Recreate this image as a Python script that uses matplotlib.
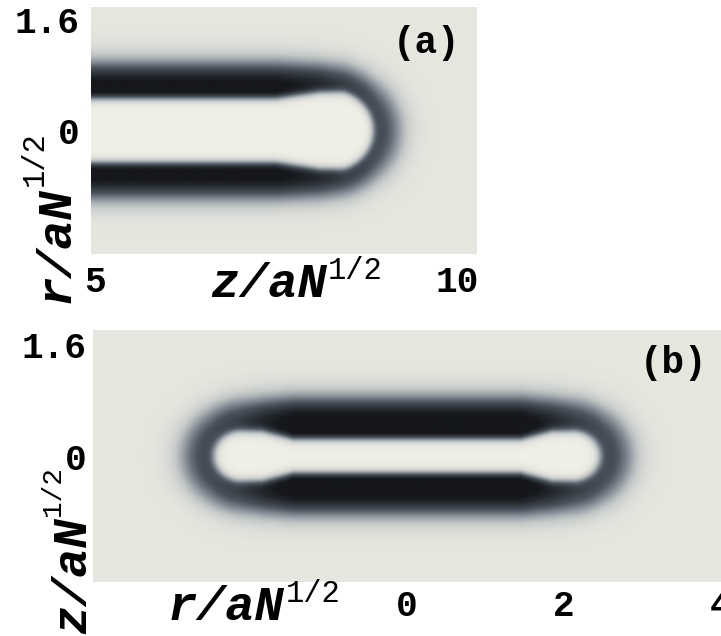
import numpy as np
import matplotlib.pyplot as plt
from matplotlib.colors import LinearSegmentedColormap


# -------------------------------------------------
# Panel (a): end of the tube, z horizontal, r vertical
# -------------------------------------------------
Z_RANGE_A = [4.95, 10.27]
R_RANGE_A = [-1.78, 1.78]
CAP_A = 8.35                      # centre of the end cap
KNOT_Z_A = [4.95, 7.5, 8.1, 8.45, 8.9, 10.3]
INNER_A = [0.48, 0.48, 0.57, 0.57, 0.49, 0.49]   # inner edge of the wall
OUTER_A = [0.92, 0.92, 0.90, 0.87, 0.82, 0.82]   # outer edge of the wall
DEPTH_A = [1.12, 1.12, 1.02, 0.88, 0.74, 0.74]   # darkness of the wall
XTICKS_A = [5, 10]
YTICKS_A = [0, 1.6]

# -------------------------------------------------
# Panel (b): closed capsule, r horizontal, z vertical
# -------------------------------------------------
R_RANGE_B = [-4.0, 4.0]
Z_RANGE_B = [-1.8, 1.8]
CAP_B = 2.1
KNOT_R_B = [0.0, 1.45, 1.85, 2.15, 2.5, 4.0]
INNER_B = [0.26, 0.26, 0.37, 0.37, 0.37, 0.37]
OUTER_B = [0.78, 0.78, 0.76, 0.74, 0.72, 0.72]
DEPTH_B = [1.15, 1.15, 0.98, 0.82, 0.74, 0.74]
XTICKS_B = [0, 2, 4]
YTICKS_B = [0, 1.6]

W, H = 721, 636


def sig(t):
    return 1.0 / (1.0 + np.exp(-t))


def density(u, v, cap, knots, inner, outer, depth, k_in=0.035, k_out=0.1):
    rho = np.sqrt(np.clip(u - cap, 0, None) ** 2 + v ** 2)
    ri = np.interp(u, knots, inner)
    ro = np.interp(u, knots, outer)
    amp = np.interp(u, knots, depth)
    wall = amp * sig((rho - ri) / k_in) * sig((ro - rho) / k_out)
    core = -0.04 * sig((ri - rho) / k_in)
    return np.clip(wall, None, 1.0) + core


za = np.linspace(Z_RANGE_A[0], Z_RANGE_A[1], 700)
ra = np.linspace(R_RANGE_A[0], R_RANGE_A[1], 400)
ZA, RA = np.meshgrid(za, ra)
field_a = density(ZA, RA, CAP_A, KNOT_Z_A, INNER_A, OUTER_A, DEPTH_A)

rb = np.linspace(R_RANGE_B[0], R_RANGE_B[1], 900)
zb = np.linspace(Z_RANGE_B[0], Z_RANGE_B[1], 400)
RB, ZB = np.meshgrid(rb, zb)
field_b = density(np.abs(RB), ZB, CAP_B, KNOT_R_B, INNER_B, OUTER_B, DEPTH_B)

# colour map: light cream -> slate -> almost black
vmin, vmax = -0.05, 1.0
stops = [(-0.05, '#f1f1e9'), (0.0, '#e5e6de'), (0.15, '#c4c8c8'),
         (0.35, '#8a939b'), (0.6, '#4b545e'), (1.0, '#15171b')]
cmap = LinearSegmentedColormap.from_list(
    'membrane', [((v - vmin) / (vmax - vmin), c) for v, c in stops])

MONO = 'Liberation Mono'

fig = plt.figure(figsize=(W / 100, H / 100), dpi=100)
fig.patch.set_facecolor('white')

ax_a = fig.add_axes([91 / W, 1 - 254 / H, 386 / W, 247 / H])
ax_b = fig.add_axes([93 / W, 1 - 582 / H, 628 / W, 252 / H])

ax_a.imshow(field_a, cmap=cmap, vmin=vmin, vmax=vmax, origin='lower',
            extent=Z_RANGE_A + R_RANGE_A, aspect='auto',
            interpolation='bilinear')
ax_b.imshow(field_b, cmap=cmap, vmin=vmin, vmax=vmax, origin='lower',
            extent=R_RANGE_B + Z_RANGE_B, aspect='auto',
            interpolation='bilinear')

for ax, xt, yt, xpad, ypad in [(ax_a, XTICKS_A, YTICKS_A, 8, 8),
                               (ax_b, XTICKS_B, YTICKS_B, 5, 5)]:
    for s in ax.spines.values():
        s.set_visible(False)
    ax.set_xticks(xt)
    ax.set_yticks(yt)
    ax.set_xticklabels([f'{t:g}' for t in xt])
    ax.set_yticklabels([f'{t:g}' for t in yt])
    ax.tick_params(length=0, labelsize=26)
    ax.tick_params(axis='x', pad=xpad)
    ax.tick_params(axis='y', pad=ypad)
    for lab in ax.get_xticklabels() + ax.get_yticklabels():
        lab.set_fontfamily(MONO)
        lab.set_fontweight('bold')

ax_a.text(0.87, 0.855, '(a)', transform=ax_a.transAxes, ha='center',
          va='center', fontsize=27, fontweight='bold', family=MONO)
ax_b.text(0.925, 0.87, '(b)', transform=ax_b.transAxes, ha='center',
          va='center', fontsize=27, fontweight='bold', family=MONO)

renderer = fig.canvas.get_renderer()


def axis_label(x, y, main, rotation=0, sup_size=22):
    # main part in bold italic, exponent 1/2 raised and smaller
    t = fig.text(x / W, 1 - y / H, main, fontsize=35, fontweight='bold',
                 fontstyle='italic', family=MONO, rotation=rotation,
                 rotation_mode='anchor', ha='left', va='baseline')
    bb = t.get_window_extent(renderer)
    if rotation == 0:
        fig.text((bb.x1 + 1) / W, (H - y + 18) / H, '1/2', fontsize=sup_size,
                 family=MONO, ha='left', va='baseline')
    else:
        fig.text((x - 26) / W, (bb.y1 + 1) / H, '1/2', fontsize=sup_size,
                 family=MONO, rotation=90, rotation_mode='anchor',
                 ha='left', va='baseline')


axis_label(210, 297, 'z/aN')
axis_label(69, 303, 'r/aN', rotation=90)
axis_label(168, 620, 'r/aN')
axis_label(86, 634, 'z/aN', rotation=90, sup_size=20)

fig.savefig('out.png', dpi=100)
